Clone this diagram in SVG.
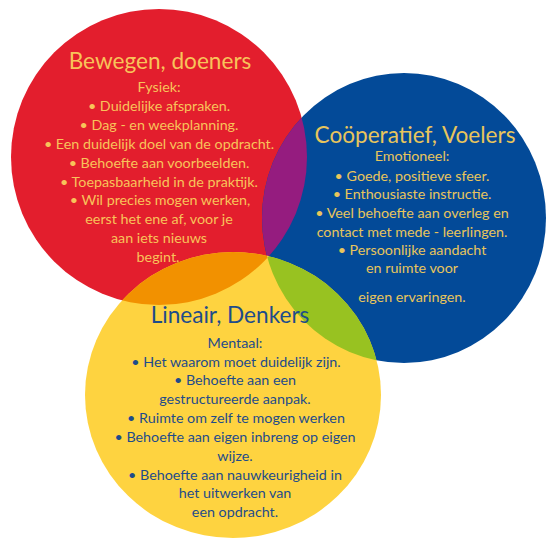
<svg xmlns="http://www.w3.org/2000/svg" width="547" height="541" viewBox="0 0 547 541">
<style>
text{font-family:Lato,"Noto Sans","Liberation Sans",sans-serif;text-anchor:middle}
.t{font-size:22.6px}
.b{font-size:14.3px}
.rt{fill:#F8C35A}
.bt{fill:#E8C55C}
.yt{fill:#1E4C8A}
</style>
<defs>
<ellipse id="cr" cx="159" cy="157" rx="148" ry="148"/>
<ellipse id="cb" cx="404" cy="218" rx="142" ry="145"/>
<ellipse id="cy" cx="233" cy="395" rx="148" ry="143"/>
<clipPath id="clipR"><use href="#cr"/></clipPath>
<clipPath id="clipB"><use href="#cb"/></clipPath>
<clipPath id="clipY"><use href="#cy"/></clipPath>
</defs>
<rect width="547" height="541" fill="#ffffff"/>
<g id="shapes">
<use href="#cr" fill="#E31E2D"/>
<use href="#cb" fill="#034A98"/>
<use href="#cy" fill="#FED340"/>
<g clip-path="url(#clipR)"><use href="#cb" fill="#951C7F"/></g>
<g clip-path="url(#clipR)"><use href="#cy" fill="#F29100"/></g>
<g clip-path="url(#clipB)"><use href="#cy" fill="#98C221"/></g>
<g clip-path="url(#clipB)"><g clip-path="url(#clipR)"><use href="#cy" fill="#FED340"/></g></g>
</g>
<g id="node-bewegen">
<text class="t rt" x="160" y="69">Bewegen, doeners</text>
<text class="b rt" x="159" y="92">Fysiek:</text>
<text class="b rt" x="159" y="111">• Duidelijke afspraken.</text>
<text class="b rt" x="159" y="130">• Dag - en weekplanning.</text>
<text class="b rt" x="159" y="149">• Een duidelijk doel van de opdracht.</text>
<text class="b rt" x="159" y="168">• Behoefte aan voorbeelden.</text>
<text class="b rt" x="159" y="187">• Toepasbaarheid in de praktijk.</text>
<text class="b rt" x="160" y="205">• Wil precies mogen werken,</text>
<text class="b rt" x="159" y="224">eerst het ene af, voor je</text>
<text class="b rt" x="159" y="243">aan iets nieuws</text>
<text class="b rt" x="158" y="262">begint.</text>
</g>
<g id="node-cooperatief">
<text class="t bt" x="415" y="143">Coöperatief, Voelers</text>
<text class="b bt" x="412" y="161">Emotioneel:</text>
<text class="b bt" x="412" y="181">• Goede, positieve sfeer.</text>
<text class="b bt" x="412" y="199">• Enthousiaste instructie.</text>
<text class="b bt" x="412" y="218">• Veel behoefte aan overleg en</text>
<text class="b bt" x="412" y="237">contact met mede - leerlingen.</text>
<text class="b bt" x="412" y="255">• Persoonlijke aandacht</text>
<text class="b bt" x="412" y="273">en ruimte voor</text>
<text class="b bt" x="412" y="302">eigen ervaringen.</text>
</g>
<g id="node-lineair">
<text class="t yt" x="230" y="323">Lineair, Denkers</text>
<text class="b yt" x="235" y="348">Mentaal:</text>
<text class="b yt" x="236" y="367">• Het waarom moet duidelijk zijn.</text>
<text class="b yt" x="235" y="385">• Behoefte aan een</text>
<text class="b yt" x="235" y="404">gestructureerde aanpak.</text>
<text class="b yt" x="236" y="423">• Ruimte om zelf te mogen werken</text>
<text class="b yt" x="235" y="442">• Behoefte aan eigen inbreng op eigen</text>
<text class="b yt" x="235" y="461">wijze.</text>
<text class="b yt" x="235" y="480">• Behoefte aan nauwkeurigheid in</text>
<text class="b yt" x="235" y="498">het uitwerken van</text>
<text class="b yt" x="235" y="517">een opdracht.</text>
</g>
</svg>
